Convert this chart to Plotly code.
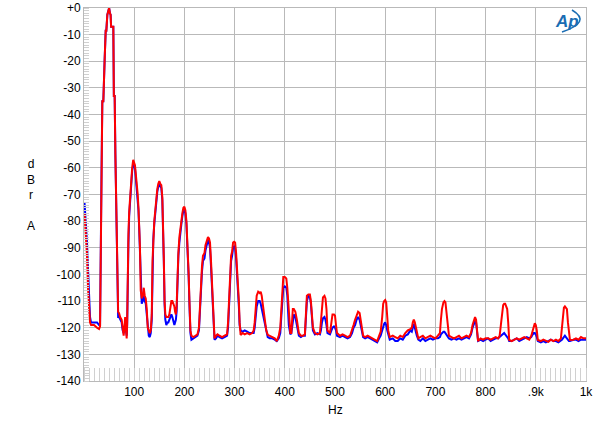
import plotly.graph_objects as go

freq_hz = [
    1, 2, 4, 6, 8, 10, 12, 14, 20, 26,
    30, 32, 35, 36.5, 38.5, 39.8, 41.2, 43.2, 44.5, 46.5,
    48.5, 50, 51.8, 53, 54, 58.4, 59.5, 61.1, 62.5, 64.4,
    66, 68, 70, 72, 75, 77, 79, 80.5, 82, 83.5,
    85, 86, 87, 88.5, 90, 92, 94, 96, 98, 100,
    101.5, 103, 105, 107, 108.5, 110, 111.5, 113, 115, 117,
    119, 121, 123, 125, 127, 129, 131, 133, 135, 136.5,
    138, 140, 142, 144, 146, 148, 150, 152, 154, 156,
    157.5, 159, 160.5, 162, 164, 166, 168, 170, 172, 174,
    176, 178, 180, 181.5, 183, 184.5, 186, 188, 190, 192,
    194, 196, 198, 200, 202, 204, 205.5, 207, 208.5, 210,
    212, 214, 218, 222, 226, 229, 231, 233, 235, 237,
    240, 242, 245, 247, 249, 251, 253, 254.5, 256, 257.5,
    260, 263, 266, 270, 275, 280, 285, 287, 289, 291,
    293, 295, 297, 299, 301, 303, 305, 307, 308.5, 310,
    312, 316, 320, 325, 330, 335, 338, 340, 342, 344,
    347, 350, 352, 354, 356, 358, 360, 363, 366, 370,
    375, 380, 384, 388, 391, 393, 395, 397, 400, 403,
    405, 406.5, 408, 411, 413, 414.5, 416, 418, 421, 424,
    426, 428, 432, 436, 440, 442, 444, 447, 450, 452,
    454, 456, 460, 465, 470, 472, 474, 476, 479, 481,
    483, 485, 490, 493, 495, 498, 500, 502, 504, 510,
    515, 520, 525, 530, 534, 537, 540, 543, 546, 549,
    551, 553, 556, 560, 565, 570, 575, 580, 584, 588,
    591, 594, 596, 598, 600, 602, 604, 606, 609, 615,
    620, 625, 630, 635, 640, 645, 650, 653, 655, 657,
    659, 661, 663, 666, 670, 675, 680, 685, 690, 695,
    700, 705, 709, 711, 713, 716, 718, 720, 721.5, 723,
    725, 727, 732, 737, 742, 747, 752, 757, 762, 767,
    771, 774, 777, 779, 781, 783, 785, 790, 795, 800,
    805, 810, 815, 820, 825, 828, 831, 833, 835, 837,
    839, 841, 843, 845, 847, 852, 857, 862, 867, 872,
    877, 882, 887, 891, 894, 896, 898, 900, 902, 904,
    910, 915, 920, 925, 930, 935, 940, 945, 950, 952,
    954, 956, 958, 960, 962, 964, 966, 968, 975, 980,
    985, 990, 995, 1000,
]

red_dbr = [
    -77, -80, -86, -93, -105, -113, -118, -119, -119, -120,
    -120.5, -119.5, -60, -35, -35, -19, -19, -8.5, -8.5, -2.5,
    -1, 0, -2, -2.5, -7, -7, -33, -33, -55, -80,
    -105, -114, -114.6, -116, -117, -121, -123, -120, -116, -120,
    -124, -118, -100, -85, -76.5, -70, -64, -60, -57, -58,
    -59, -62, -65, -70, -75, -82, -90, -106, -109, -108,
    -105, -108, -109, -113, -120, -121, -122, -121, -115, -95,
    -85, -80, -76, -70, -68, -66, -65, -66, -66.5, -71,
    -80, -94, -110, -115, -116, -116, -116, -115, -112, -110,
    -110, -111, -112, -114, -115, -112, -100, -92, -86, -82,
    -80, -77, -75, -74.6, -76, -80, -86, -91, -100, -110,
    -121, -123, -123.5, -123, -122.5, -120, -110, -103, -97, -93,
    -92, -89, -87, -86, -86.5, -88, -95, -101, -110, -117,
    -124, -123, -122.5, -123, -123.5, -123, -122.5, -118, -108, -98,
    -93, -91.5, -88, -87.7, -88, -92, -98, -102, -110, -118,
    -122.7, -122, -122.5, -122, -122.5, -122, -121, -118, -113, -108,
    -106.5, -107, -106.5, -108, -111, -114, -117, -121, -122.7, -123,
    -123.5, -124, -125, -123, -120, -113, -106, -101, -101, -101.5,
    -105, -110, -117, -122, -122, -118, -113, -113, -114, -117,
    -120, -122, -123, -123, -122.5, -115, -108, -107.5, -107.5, -110,
    -116, -120, -122, -122.5, -122, -118, -112, -108.6, -108, -109,
    -113, -121, -122, -118, -115, -115, -115.5, -119, -122, -123,
    -122.5, -123, -123.5, -123, -121, -119, -117, -115, -114, -114.5,
    -117, -120, -123, -123.5, -123, -123.5, -124, -124.5, -125, -123,
    -121.5, -116, -111, -110, -109.6, -110.5, -115, -121, -123.5, -123,
    -123.5, -124, -123, -123.5, -122, -121, -120.5, -120, -118, -117,
    -118, -120, -121, -124, -123.5, -123, -124, -123.5, -123, -123.5,
    -124, -123, -122, -117, -113, -110.5, -110, -110.5, -113, -117,
    -121, -123, -123.5, -124, -123.5, -123, -124, -123.5, -123, -123.5,
    -122, -119, -117, -116, -117, -121, -125, -124, -124.5, -124,
    -124, -124.5, -124, -123.5, -124, -123, -118, -113, -111.5, -111,
    -111, -112, -113, -118, -124.6, -125, -124.5, -124, -124.5, -124,
    -123.5, -124, -124.5, -123, -121, -119, -118.3, -119, -121, -124.6,
    -125, -124.5, -125, -125.3, -124.5, -125, -124.5, -125, -124, -120,
    -114, -112.5, -112, -112.5, -113, -118, -122, -124.6, -124.5, -124,
    -124.5, -123.5, -124, -124,
]

blue_dbr = [
    -73, -76, -81, -88, -98, -108, -116, -118, -118, -118,
    -119, -119, -60, -35, -35, -19, -19, -8.5, -8.5, -2.5,
    -1, 0, -2, -2.5, -7, -7, -33, -33, -55, -80,
    -105, -116, -116, -117, -118, -121, -122, -121, -119, -121,
    -123, -119, -102, -88, -78, -72, -66, -61, -59, -59,
    -60, -64, -66, -71, -76, -83, -92, -108, -111, -110,
    -107, -110, -111, -115, -121, -123, -123.5, -122, -117, -97,
    -87, -81, -77, -71, -69, -67, -66, -67, -67.5, -72,
    -81, -95, -111, -117, -119, -118, -118, -117, -116, -115,
    -116, -118, -119, -118, -117, -114, -102, -93, -88, -83,
    -81, -78, -76, -76, -77, -81, -87, -92, -101, -111,
    -122, -124.5, -124, -123.5, -123, -121, -112, -105, -99, -95,
    -94, -91, -88, -87, -88, -90, -97, -103, -112, -118,
    -124.5, -124, -123, -123.5, -124, -123.5, -123, -120, -110, -100,
    -95, -93, -90, -89.5, -90, -94, -100, -104, -112, -119,
    -121, -121.5, -121, -121.5, -122, -122, -122, -120, -116, -112,
    -110, -110, -111, -113, -115, -117, -119, -122, -123.5, -124,
    -124, -124.5, -125, -124, -122, -116, -110, -105, -104.5, -105,
    -108, -113, -119, -122.5, -122, -120, -117, -115, -116, -119,
    -121, -123, -123.5, -123, -123, -117, -110, -108, -108.5, -111,
    -117, -121, -122.5, -122, -122.5, -121, -118, -116.5, -116, -117,
    -119, -122, -122.5, -121, -120, -119.5, -120, -121, -123, -123.5,
    -123, -123.5, -124, -123.5, -122, -120, -119, -117, -116, -117,
    -119, -121, -123.5, -124, -123.5, -124, -124.5, -125, -125.5, -124,
    -123, -121, -119, -118.5, -118, -119, -121, -123, -124.5, -124,
    -125, -125, -124, -124.5, -123, -122.5, -121, -121.5, -119.5, -118.5,
    -120, -122, -123, -124.5, -125, -124, -125, -124.5, -124, -124.5,
    -124, -124, -123.5, -122.5, -122, -121.5, -121.5, -122, -122.5, -123,
    -123.5, -124, -124.5, -124, -124.5, -124, -124.5, -124, -123.5, -124,
    -122.5, -120, -118, -117.5, -118, -122, -125, -124.5, -125, -124.5,
    -124, -125, -124.5, -124, -124, -123.5, -123, -122.5, -122, -122,
    -122.5, -123, -123.5, -124, -125, -125, -124.5, -124, -125, -124.5,
    -124, -123.5, -124, -123.5, -122.5, -122, -122, -122.5, -123.5, -125,
    -125.5, -125, -125.5, -125, -124.5, -125, -125, -125.5, -125, -124.5,
    -124, -123.5, -123, -123.5, -124, -124.5, -125, -125, -124.5, -124.5,
    -125, -124.5, -124.5, -124.5,
]

assert len(freq_hz) == len(red_dbr) == len(blue_dbr)

x_tick_vals = [100, 200, 300, 400, 500, 600, 700, 800, 900, 1000]
x_tick_text = ["100", "200", "300", "400", "500", "600", "700", "800", ".9k", "1k"]
y_tick_vals = [0, -10, -20, -30, -40, -50, -60, -70, -80, -90, -100, -110, -120, -130, -140]
y_tick_text = ["+0", "-10", "-20", "-30", "-40", "-50", "-60", "-70", "-80", "-90",
               "-100", "-110", "-120", "-130", "-140"]

FONT = "Liberation Sans, Arial, sans-serif"
GRID = "#b9b9b9"

L, R, T, B = 84, 586, 8, 381
PW, PH = R - L, B - T


def px(x):
    return (x - L) / PW


def py(y):
    return 1 - (y - T) / PH


fig = go.Figure()
fig.add_trace(go.Scatter(x=freq_hz, y=blue_dbr, mode="lines",
                         line=dict(color="#0000ff", width=2), showlegend=False))
fig.add_trace(go.Scatter(x=freq_hz, y=red_dbr, mode="lines",
                         line=dict(color="#ff0000", width=2), showlegend=False))

fig.update_layout(
    width=600, height=422,
    margin=dict(l=L, r=600 - R, t=T, b=422 - B, autoexpand=False),
    paper_bgcolor="white", plot_bgcolor="white",
    font=dict(family=FONT, size=12, color="black"),
    xaxis=dict(
        range=[0, 1000], tickvals=x_tick_vals, ticktext=x_tick_text,
        showgrid=True, gridcolor=GRID, gridwidth=1, automargin=False,
        showline=True, linecolor=GRID, linewidth=1, mirror=True,
        ticks="", zeroline=False,
        minor=dict(dtick=10, ticks="inside", ticklen=13, tickcolor="#d0d0d0", tickwidth=1, showgrid=False),
        tickfont=dict(size=12, family=FONT),
    ),
    yaxis=dict(
        range=[-140, 0], tickvals=y_tick_vals, ticktext=y_tick_text,
        showgrid=True, gridcolor=GRID, gridwidth=1, automargin=False,
        showline=True, linecolor=GRID, linewidth=1, mirror=True,
        ticks="", zeroline=False,
        minor=dict(dtick=1, ticks="inside", ticklen=5, tickcolor="#d0d0d0", tickwidth=1, showgrid=False),
        tickfont=dict(size=12, family=FONT),
    ),
    annotations=[
        dict(text="d<br>B<br>r<br><br>A", xref="paper", yref="paper",
             x=px(31), y=py(195), showarrow=False,
             font=dict(size=12, family=FONT), xanchor="center", yanchor="middle"),
        dict(text="Hz", xref="paper", yref="paper",
             x=px(335), y=py(410), showarrow=False,
             font=dict(size=12, family=FONT), xanchor="center", yanchor="middle"),
        dict(text="<b><i>Ap</i></b>", xref="paper", yref="paper",
             x=px(567), y=py(21), showarrow=False,
             font=dict(size=17, family=FONT, color="#1a6db3"), xanchor="center", yanchor="middle"),
    ],
    shapes=[
        dict(type="path", xref="paper", yref="paper",
             path="M {:.4f},{:.4f} Q {:.4f},{:.4f} {:.4f},{:.4f}".format(
                 px(572), py(10), px(592), py(22), px(562), py(32)),
             line=dict(color="#1a6db3", width=1.5)),
    ],
)

fig.write_html("out.html")
